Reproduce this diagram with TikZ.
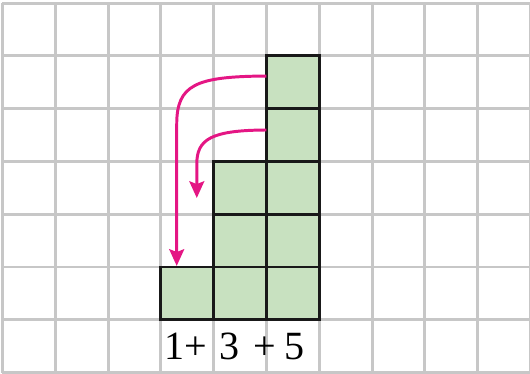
\documentclass[tikz,border=0pt]{standalone}
\usepackage{fontspec}
\setmainfont{Liberation Serif}
\usetikzlibrary{arrows.meta}
\definecolor{gridgray}{RGB}{199,199,199}
\definecolor{sqgreen}{RGB}{200,225,192}
\definecolor{arrmag}{RGB}{228,22,132}
\begin{document}
\begin{tikzpicture}[x=1cm,y=1cm,
  gridline/.style={draw=gridgray,line width=1.6pt},
  sq/.style={draw=black!90,fill=sqgreen,line width=1.5pt,minimum size=1cm,inner sep=0pt,outer sep=0pt},
  arr/.style={draw=arrmag,line width=1.6pt,-{Stealth[length=9pt,width=8pt,inset=1.5pt]}},
  lbl/.style={anchor=base,inner sep=0pt,font=\fontsize{21.6}{26}\selectfont}]
\useasboundingbox (-0.047,-0.008) rectangle (9.991,7.057);
\draw[gridline] (0,0) grid (10,7);
% squares
\node[sq] (s55) at (5.5,5.5) {};
\node[sq] (s54) at (5.5,4.5) {};
\node[sq] (s53) at (5.5,3.5) {};
\node[sq] (s52) at (5.5,2.5) {};
\node[sq] (s51) at (5.5,1.5) {};
\node[sq] (s43) at (4.5,3.5) {};
\node[sq] (s42) at (4.5,2.5) {};
\node[sq] (s41) at (4.5,1.5) {};
\node[sq] (s31) at (3.5,1.5) {};
% arrows
\coordinate (a1) at (5,5.617);
\coordinate (b1) at (3.3,2.02);
\coordinate (a2) at (5,4.595);
\coordinate (b2) at (3.68,3.307);
\draw[arr] (a1) .. controls (3.65,5.61) and (3.3,5.45) .. (3.3,4.7) -- (b1);
\draw[arr] (a2) .. controls (3.95,4.59) and (3.68,4.42) .. (3.68,3.95) -- (b2);
% labels
\node[lbl] (t1) at (3.267,0.239) {1};
\node[lbl] (tp1) at (3.665,0.239) {+};
\node[lbl] (t3) at (4.299,0.239) {3};
\node[lbl] (tp2) at (4.962,0.239) {+};
\node[lbl] (t5) at (5.54,0.239) {5};
\end{tikzpicture}
\end{document}
